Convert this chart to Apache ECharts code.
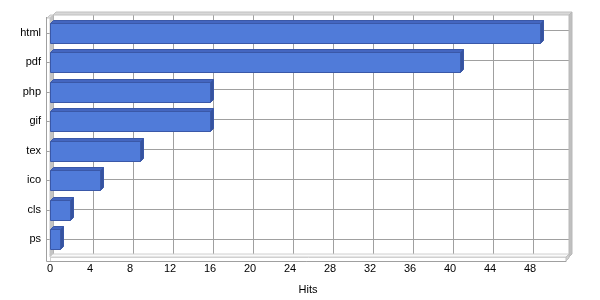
<!DOCTYPE html>
<html><head><meta charset="utf-8">
<script src="https://cdn.jsdelivr.net/npm/echarts@6/dist/echarts.min.js"></script>
<style>html,body{margin:0;padding:0;background:#fff}#c{width:600px;height:300px}</style>
</head><body><div id="c"></div>
<script>
const categories = ['html', 'pdf', 'php', 'gif', 'tex', 'ico', 'cls', 'ps'];
const hits = [49, 41, 16, 16, 9, 5, 2, 1];
const xMin = 0;
const xMax = 51.6;
const xInterval = 4;
const axisTitle = 'Hits';

// layout (front plane of the 3D box, and depth offset)
const L = 50, T = 18, W = 516, H = 239, D = 3;
const R = L + W, B = T + H;
const FONT = "'Liberation Sans', Arial, sans-serif";
const GRIDC = '#a0a0a0';

const chart = echarts.init(document.getElementById('c'), null, {renderer: 'canvas'});

function renderBar(params, api) {
  const v = api.value(0), c = api.value(1);
  const p0 = api.coord([0, c]);
  const p1 = api.coord([v, c]);
  const band = api.size([0, 1])[1];
  const h = Math.round(band * 0.67);
  const top = Math.round(p0[1] - h / 2) + 0.5, bot = top + h;
  const x0 = Math.round(p0[0]) + 0.5, x1 = Math.round(p1[0]) + 0.5;
  const edge = '#3a58a8';
  return {type: 'group', children: [
    {type: 'polygon', shape: {points: [[x0, top], [x0 + D, top - D], [x1 + D, top - D], [x1, top]]},
     style: {fill: '#4466c0', stroke: edge, lineWidth: 1}},
    {type: 'polygon', shape: {points: [[x1, top], [x1 + D, top - D], [x1 + D, bot - D], [x1, bot]]},
     style: {fill: '#36539f', stroke: edge, lineWidth: 1}},
    {type: 'rect', shape: {x: x0, y: top, width: x1 - x0, height: h},
     style: {fill: '#507bd9', stroke: edge, lineWidth: 1}}
  ]};
}

const option = {
  animation: false,
  backgroundColor: '#fff',
  textStyle: {fontFamily: FONT},
  grid: [
    {left: L, top: T, width: W, height: H},
    {left: L + D, top: T - D, width: W, height: H}
  ],
  xAxis: [
    {gridIndex: 0, type: 'value', min: xMin, max: xMax, interval: xInterval,
     axisLine: {show: true, lineStyle: {color: '#d0d0d0'}},
     axisTick: {show: true, length: 4, lineStyle: {color: GRIDC}},
     splitLine: {show: false},
     axisLabel: {show: true, margin: 9, color: '#000', fontSize: 11, fontFamily: FONT, showMaxLabel: false},
     name: axisTitle, nameLocation: 'middle', nameGap: 30,
     nameTextStyle: {color: '#000', fontSize: 11, fontFamily: FONT}},
    {gridIndex: 1, type: 'value', min: xMin, max: xMax, interval: xInterval,
     axisLine: {show: false}, axisTick: {show: false}, axisLabel: {show: false},
     splitLine: {show: true, lineStyle: {color: GRIDC, width: 1}}}
  ],
  yAxis: [
    {gridIndex: 0, type: 'category', data: categories, inverse: true, offset: 3,
     axisLine: {show: false},
     axisTick: {show: true, alignWithLabel: true, length: 4, lineStyle: {color: GRIDC}},
     splitLine: {show: false},
     axisLabel: {margin: 6, color: '#000', fontSize: 11, fontFamily: FONT, interval: 0}},
    {gridIndex: 1, type: 'category', data: categories, inverse: true,
     axisLine: {show: false}, axisTick: {show: false}, axisLabel: {show: false},
     splitLine: {show: true, interval: 0, alignWithLabel: true, lineStyle: {color: GRIDC, width: 1}}}
  ],
  graphic: [
    // back wall top thickness
    {type: 'polygon', z: 1, shape: {points: [[L + D, T - D], [R + D, T - D], [R + 2 * D, T - 2 * D], [L + 2 * D, T - 2 * D]]},
     style: {fill: '#d8d8d8', stroke: '#c0c0c0', lineWidth: 1}},
    // back wall right edge
    {type: 'polygon', z: 1, shape: {points: [[R + D, T - D], [R + 2 * D, T - 2 * D], [R + 2 * D, B - 2 * D + 3], [R + D, B - D + 3]]},
     style: {fill: '#c0c0c0', stroke: '#b8b8b8', lineWidth: 1}},
    // left wall inner face
    {type: 'polygon', z: 1, shape: {points: [[L, T], [L + D, T - D], [L + D, B - D], [L, B]]},
     style: {fill: '#c4c4c4', stroke: '#c4c4c4', lineWidth: 1}},
    // left wall top
    {type: 'polygon', z: 1, shape: {points: [[L - D, T], [L, T], [L + D, T - D], [L, T - D]]},
     style: {fill: '#e0e0e0', stroke: '#c8c8c8', lineWidth: 1}},
    // floor top surface
    {type: 'polygon', z: 1, shape: {points: [[L, B], [L + D, B - D], [R + D, B - D], [R, B]]},
     style: {fill: '#fafafa', stroke: '#d0d0d0', lineWidth: 1}},
    // floor front face
    {type: 'rect', z: 1, shape: {x: L + 0.5, y: B + 0.5, width: W, height: 4},
     style: {fill: '#fff', stroke: '#d0d0d0', lineWidth: 1}},
    // floor right face
    {type: 'polygon', z: 1, shape: {points: [[R, B], [R + D, B - D], [R + D, B - D + 4], [R, B + 4]]},
     style: {fill: '#d0d0d0', stroke: '#c0c0c0', lineWidth: 1}},
    // outer left line and bottom line
    {type: 'line', z: 3, shape: {x1: L - 3.5, y1: T - 1, x2: L - 3.5, y2: B + 4.5}, style: {stroke: GRIDC, lineWidth: 1}},
    {type: 'line', z: 3, shape: {x1: L - 3.5, y1: B + 4.5, x2: R, y2: B + 4.5}, style: {stroke: GRIDC, lineWidth: 1}}
  ],
  series: [
    {type: 'custom', xAxisIndex: 0, yAxisIndex: 0, z: 10,
     renderItem: renderBar, encode: {x: 0, y: 1},
     data: hits.map((v, i) => [v, i])}
  ]
};
chart.setOption(option);
</script>
</body></html>
